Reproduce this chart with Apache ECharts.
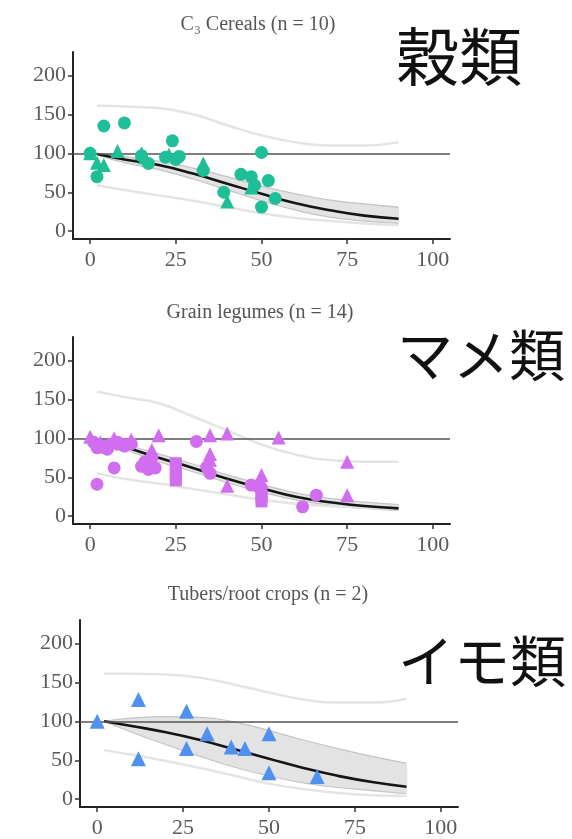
<!DOCTYPE html>
<html><head><meta charset="utf-8">
<script src="https://cdn.jsdelivr.net/npm/echarts@6/dist/echarts.min.js"></script>
<style>html,body{margin:0;padding:0;background:#fff;}#c{width:572px;height:839px;}</style>
</head><body><div id="c"></div>
<script>
// ---- data ----
const xTicks = [0, 25, 50, 75, 100];
const yTicks = [0, 50, 100, 150, 200];
const panelTitles = ['C\u2083 Cereals (n = 10)', 'Grain legumes (n = 14)', 'Tubers/root crops (n = 2)'];
const panelLabels = ['穀類', 'マメ類', 'イモ類'];
const curveX = [2, 10, 20, 30, 40, 50, 60, 70, 80, 90];

// C3 cereals
const cerealCircles = [[0,100],[2,70],[4,135],[10,139],[15,97],[17,87],[22,95],[24,116],[25,92],[26,96],[33,78],[39,50],[44,73],[47,70],[48,59],[50,101],[50,31],[52,65],[54,42]];
const cerealTriangles = [[0,100],[2,88],[4,85],[8,103],[15,100],[16,95],[23,98],[33,87],[40,38],[47,56]];
const mean1 = [99, 92, 85, 74, 61, 48, 36, 27, 20, 16];
const ciUp1 = [100, 96, 90, 81, 70, 58, 48, 40, 35, 31];
const ciLo1 = [98, 88, 79, 67, 53, 39, 27, 18, 13, 10];
const prUp1 = [161, 160, 158, 150, 136, 123, 114, 110, 110, 114];
const prLo1 = [59, 53, 46, 39, 31, 23, 17, 13, 10, 8];

// Grain legumes
const legCircles = [[1,95],[2,88],[2,41],[4,90],[5,86],[6,92],[7,62],[8,95],[10,90],[12,93],[15,64],[16,70],[17,60],[18,75],[19,62],[31,96],[34,63],[35,55],[47,40],[49,38],[62,12],[66,27]];
const legTriangles = [[0,102],[3,95],[7,100],[12,98],[18,85],[20,104],[35,104],[35,80],[35,72],[40,106],[40,39],[50,53],[50,45],[55,101],[75,70],[75,27]];
const legSquares = [[3,88],[5,90],[9,92],[25,68],[25,60],[25,52],[25,46],[50,30],[50,25],[50,19]];
const mean2 = [99, 89, 75, 62, 48, 36, 25, 18, 13, 10];
const ciUp2 = [100, 92, 80, 67, 53, 41, 30, 23, 18, 15];
const ciLo2 = [98, 86, 70, 57, 43, 31, 21, 14, 10, 7];
const prUp2 = [160, 153, 145, 128, 110, 92, 79, 72, 70, 70];
const prLo2 = [55, 48, 42, 35, 28, 21, 16, 13, 11, 9];

// Tubers / root crops
const tuberTriangles = [[0,100],[12,128],[12,52],[26,113],[26,65],[32,84],[39,67],[43,65],[50,84],[50,34],[64,29]];
const mean3 = [100, 94, 86, 76, 64, 52, 40, 30, 22, 16];
const ciUp3 = [100, 104, 106, 105, 99, 88, 76, 65, 55, 46];
const ciLo3 = [100, 86, 70, 55, 41, 30, 21, 15, 11, 7];
const prUp3 = [161, 161, 160, 156, 147, 137, 128, 124, 124, 129];
const prLo3 = [63, 57, 49, 40, 30, 20, 13, 8, 5, 4];

// ---- layout / style ----
const grids = [
  {left: 73, top: 52, width: 377, height: 187},
  {left: 73, top: 337, width: 377, height: 187},
  {left: 80, top: 620, width: 378, height: 187}
];
const titlePos = [[258, 25], [260, 313], [268, 595]];
const labelPos = [[396, 56], [397, 355], [398, 661]];
const labelSize = [63, 56, 56];
const colors = ['#1ebe96', '#d16ef0', '#4f90f0'];

const zip = ys => curveX.map((x, i) => [x, ys[i]]);

const xAxes = grids.map((g, i) => ({
  type: 'value', gridIndex: i, min: -5, max: 105,
  splitLine: {show: false},
  axisLine: {show: true, onZero: false, lineStyle: {color: '#222', width: 2}},
  axisTick: {show: true, customValues: xTicks, length: 5, lineStyle: {color: '#333', width: 1.5}},
  axisLabel: {customValues: xTicks, color: '#5a5a5a', fontFamily: 'Liberation Serif', fontSize: 22, margin: 10}
}));
const yAxes = grids.map((g, i) => ({
  type: 'value', gridIndex: i, min: -10, max: 230,
  splitLine: {show: false},
  axisLine: {show: true, onZero: false, lineStyle: {color: '#222', width: 2}},
  axisTick: {show: true, customValues: yTicks, length: 5, lineStyle: {color: '#333', width: 1.5}},
  axisLabel: {customValues: yTicks, color: '#5a5a5a', fontFamily: 'Liberation Serif', fontSize: 22, margin: 7}
}));

const series = [];
const panels = [
  {mean: mean1, ciU: ciUp1, ciL: ciLo1, pU: prUp1, pL: prLo1, pts: [[cerealCircles, 'circle', 13], [cerealTriangles, 'triangle', 14]]},
  {mean: mean2, ciU: ciUp2, ciL: ciLo2, pU: prUp2, pL: prLo2, pts: [[legCircles, 'circle', 13], [legTriangles, 'triangle', 14], [legSquares, 'rect', 12]]},
  {mean: mean3, ciU: ciUp3, ciL: ciLo3, pU: prUp3, pL: prLo3, pts: [[tuberTriangles, 'triangle', 15]]}
];
panels.forEach((p, i) => {
  const ax = {xAxisIndex: i, yAxisIndex: i};
  series.push({type: 'line', ...ax, data: [], z: 1, silent: true,
    markLine: {silent: true, symbol: 'none', label: {show: false},
      lineStyle: {color: '#555', width: 1.5, type: 'solid'}, data: [{yAxis: 100}]}});
  // confidence band polygon
  series.push({type: 'custom', ...ax, z: 2, silent: true,
    data: curveX.map((x, k) => [x, p.ciL[k], p.ciU[k]]),
    renderItem: function (params, api) {
      if (params.dataIndex !== 0) return;
      const up = curveX.map((x, k) => api.coord([x, p.ciU[k]]));
      const lo = curveX.map((x, k) => api.coord([x, p.ciL[k]])).reverse();
      return {type: 'polygon', shape: {points: up.concat(lo), smooth: 0.08},
        style: {fill: '#e3e3e3', stroke: null}};
    }
  });
  [p.ciU, p.ciL].forEach(d => series.push({type: 'line', ...ax, data: zip(d), smooth: true, symbol: 'none',
    lineStyle: {color: '#c4c4c4', width: 1.2}, z: 3, silent: true}));
  [p.pU, p.pL].forEach(d => series.push({type: 'line', ...ax, data: zip(d), smooth: true, symbol: 'none',
    lineStyle: {color: '#e4e4e4', width: 2.5}, z: 3, silent: true}));
  series.push({type: 'line', ...ax, data: zip(p.mean), smooth: true, symbol: 'none',
    lineStyle: {color: '#151515', width: 2.6}, z: 4, silent: true});
  p.pts.forEach(([d, sym, sz]) => series.push({type: 'scatter', ...ax, data: d, symbol: sym, symbolSize: sz,
    itemStyle: {color: colors[i], opacity: 1}, z: 5}));
});

const graphic = [];
panelTitles.forEach((t, i) => graphic.push({type: 'text', x: titlePos[i][0], y: titlePos[i][1],
  style: {text: t, fill: '#555', font: '20px "Liberation Serif"', textAlign: 'center', textVerticalAlign: 'middle'}}));
panelLabels.forEach((t, i) => graphic.push({type: 'text', x: labelPos[i][0], y: labelPos[i][1],
  style: {text: t, fill: '#111', font: labelSize[i] + 'px "Noto Sans CJK JP"', textAlign: 'left', textVerticalAlign: 'middle'}}));

const chart = echarts.init(document.getElementById('c'), null, {renderer: 'canvas'});
chart.setOption({
  animation: false,
  backgroundColor: '#fff',
  grid: grids,
  xAxis: xAxes,
  yAxis: yAxes,
  series: series,
  graphic: graphic
});
</script></body></html>
